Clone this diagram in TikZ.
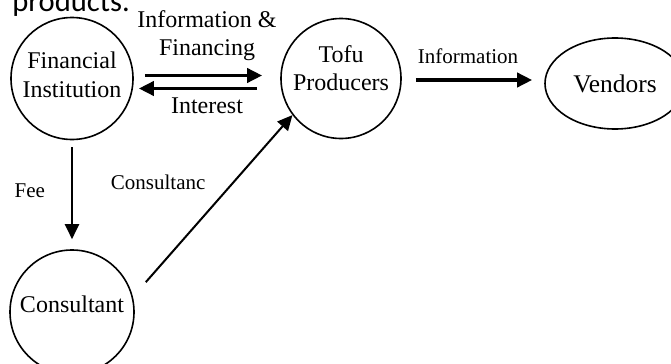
\documentclass[tikz,border=0pt]{standalone}
\usepackage{fontspec}
\setmainfont{Liberation Serif}
\newfontfamily\bodyfont{Carlito}
\usetikzlibrary{positioning, arrows.meta, shapes.geometric}

\begin{document}
\begin{tikzpicture}[
        on grid,
        party/.style={draw, circle, line width=0.8pt, inner sep=0pt, align=center,
            font=\fontsize{12}{14.2}\selectfont},
        heavy/.style={line width=1.8pt, -{Triangle[length=7.5pt, width=7pt]}},
        light/.style={line width=1pt, -{Triangle[length=7.5pt, width=7pt]}},
        big/.style={font=\fontsize{12}{14.2}\selectfont, inner sep=0pt, align=center},
        small/.style={font=\fontsize{10.5}{12}\selectfont, inner sep=0pt}
    ]
        \useasboundingbox (0,0) rectangle (335.5pt,-182pt);
        \clip (0,0) rectangle (335.5pt,-182pt);

        \node[anchor=base west, inner sep=0pt, font=\bodyfont\fontsize{15.3}{18}\selectfont]
            (caption) at (6pt,-5.5pt) {products.};

        \node[party, minimum size=61pt, text depth=3.7pt] (fin) at (36pt,-39.25pt) {Financial\\Institution};
        \node[party, minimum size=60pt, text depth=10.3pt] (tofu) [right=134.5pt of fin] {Tofu\\Producers};
        \node[draw, ellipse, line width=0.8pt, minimum width=70pt, minimum height=45.5pt,
            font=\fontsize{12.7}{15}\selectfont] (vend) [below right=2.5pt and 137pt of tofu] {Vendors};
        \node[party, minimum size=62pt, text depth=8pt] (cons) [below=116.75pt of fin] {Consultant};

        \path
        ([yshift=1.5pt]fin.east) edge[heavy, shorten <=5.5pt, shorten >=9pt]
            node[big, above=6.3pt] {Information \&\\Financing} ([yshift=1.5pt]tofu.west)
        ([yshift=-5pt]tofu.west) edge[heavy, shorten <=11.5pt, shorten >=2.5pt]
            node[big, below=3.5pt] {Interest} ([yshift=-5pt]fin.east)
        ([yshift=-0.75pt]tofu.east) edge[heavy, shorten <=7pt, shorten >=6pt]
            node[small, pos=0.465, above=7pt] {Information} ([yshift=1.75pt]vend.west)
        (fin) edge[light, shorten <=3.5pt, shorten >=5pt]
            node[small, pos=0.46, left=13pt] {Fee} (cons)
        (cons.14.5) edge[light, shorten <=9.75pt]
            node[small, pos=0.63, left=13.5pt] {Consultanc} (tofu.217);
    \end{tikzpicture}
\end{document}
